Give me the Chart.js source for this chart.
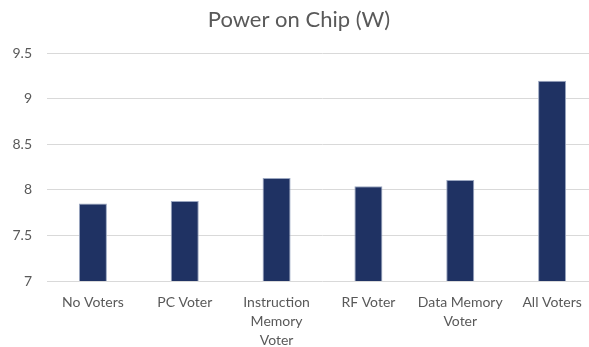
<!DOCTYPE html>
<html>
<head>
<meta charset="utf-8">
<script src="https://cdn.jsdelivr.net/npm/chart.js@4/dist/chart.umd.min.js"></script>
<style>
    html, body { margin: 0; padding: 0; background: #fff; overflow: hidden; }
    #wrap { position: relative; width: 598px; height: 347px; }
</style>
</head>
<body>
<div id="wrap"><canvas id="powerChart"></canvas></div>
<script>
// Datos del gráfico
const categories = [
    'No Voters',
    'PC Voter',
    ['Instruction', 'Memory', 'Voter'],
    'RF Voter',
    ['Data Memory', 'Voter'],
    'All Voters'
];
const powerValues = [7.85, 7.88, 8.13, 8.04, 8.11, 9.2];
const yTicks = [7, 7.5, 8, 8.5, 9, 9.5];

const textColor = '#595959';
const gridColor = '#d9d9d9';

const ctx = document.getElementById('powerChart').getContext('2d');

new Chart(ctx, {
    type: 'bar',
    data: {
        labels: categories,
        datasets: [{
            label: 'Power on Chip (W)',
            data: powerValues,
            backgroundColor: '#1f3263',
            borderColor: '#9aa6c0',
            borderWidth: 1,
            categoryPercentage: 1,
            barPercentage: 0.305
        }]
    },
    options: {
        responsive: true,
        maintainAspectRatio: false,
        animation: false,
        layout: { padding: { left: 0, right: 0, top: 0, bottom: 0 } },
        plugins: {
            legend: { display: false },
            tooltip: { enabled: false },
            title: {
                display: true,
                text: 'Power on Chip (W)',
                color: textColor,
                font: { family: 'Lato', size: 22, weight: 'normal' },
                padding: { top: 7, bottom: 20 }
            }
        },
        scales: {
            x: {
                grid: { display: false, drawTicks: false },
                border: { display: false },
                ticks: {
                    color: textColor,
                    font: { family: 'Lato', size: 14, lineHeight: 1.35 },
                    padding: 12,
                    maxRotation: 0,
                    autoSkip: false
                },
                afterFit: scale => { scale.height = 66; }
            },
            y: {
                min: 7,
                max: 9.5,
                afterBuildTicks: scale => { scale.ticks = yTicks.map(v => ({ value: v })); },
                grid: { color: gridColor, lineWidth: 1, drawTicks: false },
                border: { display: false },
                ticks: {
                    color: textColor,
                    font: { family: 'Lato', size: 14 },
                    padding: 15,
                    callback: value => String(value)
                },
                afterFit: scale => { scale.width = 47; }
            }
        }
    }
});
</script>
</body>
</html>
